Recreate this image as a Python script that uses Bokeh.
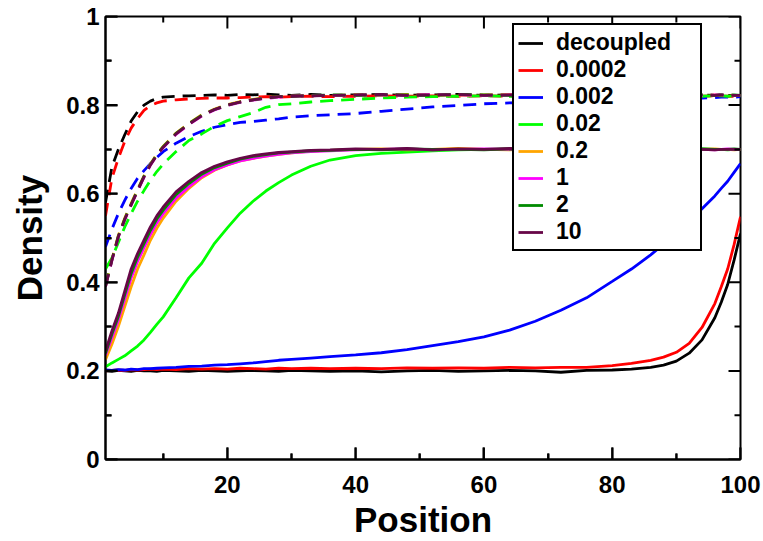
from bokeh.plotting import figure
from bokeh.models import Legend, LegendItem, FixedTicker, Range1d
from bokeh.embed import file_html
from bokeh.resources import INLINE

# ---------------- data ----------------
positions = [1, 2, 3, 4, 5, 6, 7, 8, 9, 10, 12, 14, 16, 18, 20, 22, 24, 26, 28, 30,
             33, 36, 40, 44, 48, 52, 56, 60, 64, 68, 72, 76, 80, 83, 86, 88, 90, 92,
             94, 96, 97, 98, 99, 100]

series_labels = ["decoupled", "0.0002", "0.002", "0.02", "0.2", "1", "2", "10"]
series_colors = ["#000000", "#FF0000", "#0000FF", "#00FF00", "#FFA500", "#FF00FF",
                 "#008B00", "#670748"]

# solid curves (low-density branch)
low_decoupled = [0.200, 0.199, 0.201, 0.200, 0.199, 0.201, 0.200, 0.200, 0.199, 0.201,
                 0.200, 0.199, 0.201, 0.200, 0.199, 0.200, 0.201, 0.200, 0.199, 0.201,
                 0.200, 0.199, 0.200, 0.198, 0.200, 0.201, 0.199, 0.200, 0.201, 0.200,
                 0.197, 0.201, 0.202, 0.204, 0.208, 0.213, 0.222, 0.240, 0.270, 0.320,
                 0.355, 0.395, 0.450, 0.510]
low_0_0002 = [0.200, 0.201, 0.202, 0.201, 0.203, 0.202, 0.203, 0.204, 0.203, 0.204,
              0.203, 0.205, 0.204, 0.205, 0.204, 0.206, 0.205, 0.204, 0.206, 0.205,
              0.206, 0.205, 0.206, 0.205, 0.207, 0.206, 0.207, 0.206, 0.208, 0.207,
              0.208, 0.208, 0.212, 0.217, 0.224, 0.231, 0.242, 0.262, 0.298, 0.352,
              0.390, 0.430, 0.485, 0.548]
low_0_002 = [0.202, 0.201, 0.203, 0.202, 0.204, 0.203, 0.205, 0.205, 0.206, 0.207,
             0.208, 0.210, 0.211, 0.213, 0.214, 0.216, 0.218, 0.221, 0.224, 0.226,
             0.229, 0.232, 0.236, 0.241, 0.248, 0.257, 0.266, 0.277, 0.292, 0.312,
             0.337, 0.365, 0.402, 0.430, 0.462, 0.486, 0.512, 0.538, 0.566, 0.595,
             0.612, 0.628, 0.648, 0.668]
low_0_02 = [0.209, 0.218, 0.226, 0.234, 0.245, 0.256, 0.270, 0.287, 0.305, 0.322,
            0.365, 0.410, 0.443, 0.488, 0.523, 0.556, 0.583, 0.606, 0.625, 0.642,
            0.662, 0.676, 0.686, 0.691, 0.694, 0.697, 0.699, 0.700, 0.701, 0.699,
            0.700, 0.702, 0.700, 0.699, 0.701, 0.700, 0.700, 0.699, 0.701, 0.700,
            0.700, 0.699, 0.700, 0.700]
low_0_2 = [0.225, 0.260, 0.300, 0.345, 0.390, 0.430, 0.462, 0.495, 0.522, 0.545,
           0.583, 0.612, 0.636, 0.653, 0.665, 0.674, 0.680, 0.685, 0.689, 0.692,
           0.696, 0.698, 0.700, 0.701, 0.699, 0.700, 0.702, 0.700, 0.699, 0.701,
           0.700, 0.700, 0.701, 0.699, 0.700, 0.701, 0.700, 0.699, 0.700, 0.701,
           0.700, 0.700, 0.699, 0.700]
low_1 = [0.235, 0.275, 0.315, 0.362, 0.410, 0.447, 0.478, 0.508, 0.534, 0.555,
         0.590, 0.616, 0.638, 0.654, 0.665, 0.674, 0.680, 0.685, 0.689, 0.692,
         0.695, 0.697, 0.699, 0.700, 0.701, 0.699, 0.700, 0.701, 0.700, 0.699,
         0.701, 0.700, 0.700, 0.701, 0.699, 0.700, 0.700, 0.701, 0.700, 0.699,
         0.700, 0.701, 0.700, 0.700]
low_2 = [0.240, 0.283, 0.323, 0.372, 0.420, 0.457, 0.487, 0.517, 0.543, 0.563,
         0.598, 0.623, 0.644, 0.659, 0.669, 0.678, 0.684, 0.688, 0.692, 0.694,
         0.697, 0.698, 0.700, 0.699, 0.701, 0.700, 0.700, 0.699, 0.701, 0.700,
         0.700, 0.701, 0.699, 0.700, 0.701, 0.700, 0.699, 0.700, 0.701, 0.700,
         0.700, 0.700, 0.701, 0.700]
low_10 = [0.245, 0.290, 0.330, 0.380, 0.430, 0.465, 0.495, 0.525, 0.550, 0.570,
          0.604, 0.628, 0.648, 0.662, 0.672, 0.680, 0.686, 0.690, 0.693, 0.695,
          0.698, 0.699, 0.701, 0.700, 0.702, 0.699, 0.701, 0.700, 0.702, 0.700,
          0.699, 0.701, 0.700, 0.702, 0.700, 0.699, 0.701, 0.700, 0.700, 0.699,
          0.700, 0.700, 0.700, 0.700]

# dashed curves (high-density branch)
high_decoupled = [0.580, 0.660, 0.700, 0.733, 0.764, 0.785, 0.800, 0.809, 0.815, 0.818,
                  0.820, 0.821, 0.822, 0.823, 0.822, 0.824, 0.823, 0.825, 0.823, 0.822,
                  0.824, 0.822, 0.823, 0.824, 0.822, 0.823, 0.824, 0.822, 0.823, 0.822,
                  0.824, 0.823, 0.822, 0.823, 0.824, 0.822, 0.823, 0.822, 0.823, 0.822,
                  0.823, 0.822, 0.822, 0.822]
high_0_0002 = [0.550, 0.635, 0.680, 0.718, 0.748, 0.770, 0.788, 0.799, 0.805, 0.809,
               0.812, 0.814, 0.815, 0.816, 0.816, 0.817, 0.818, 0.819, 0.818, 0.819,
               0.820, 0.819, 0.820, 0.821, 0.820, 0.821, 0.820, 0.821, 0.820, 0.821,
               0.820, 0.821, 0.820, 0.821, 0.820, 0.821, 0.820, 0.821, 0.820, 0.821,
               0.820, 0.820, 0.820, 0.820]
high_0_002 = [0.480, 0.520, 0.555, 0.585, 0.612, 0.635, 0.652, 0.668, 0.682, 0.695,
              0.714, 0.729, 0.741, 0.750, 0.756, 0.761, 0.763, 0.766, 0.769, 0.773,
              0.776, 0.778, 0.781, 0.786, 0.791, 0.796, 0.799, 0.803, 0.805, 0.806,
              0.808, 0.809, 0.811, 0.812, 0.813, 0.814, 0.815, 0.816, 0.816, 0.817,
              0.818, 0.818, 0.818, 0.819]
high_0_02 = [0.430, 0.455, 0.490, 0.525, 0.555, 0.583, 0.607, 0.630, 0.650, 0.667,
             0.695, 0.720, 0.735, 0.752, 0.765, 0.774, 0.783, 0.795, 0.801, 0.803,
             0.807, 0.810, 0.813, 0.816, 0.818, 0.819, 0.820, 0.821, 0.820, 0.822,
             0.821, 0.820, 0.822, 0.821, 0.820, 0.821, 0.822, 0.821, 0.820, 0.821,
             0.821, 0.820, 0.821, 0.821]
high_0_2 = [0.392, 0.452, 0.506, 0.545, 0.578, 0.610, 0.640, 0.667, 0.689, 0.707,
            0.737, 0.759, 0.778, 0.791, 0.801, 0.808, 0.813, 0.817, 0.819, 0.820,
            0.822, 0.822, 0.823, 0.822, 0.824, 0.823, 0.822, 0.823, 0.824, 0.822,
            0.823, 0.823, 0.822, 0.824, 0.823, 0.822, 0.823, 0.824, 0.822, 0.823,
            0.822, 0.823, 0.822, 0.822]
high_1 = [0.390, 0.449, 0.502, 0.541, 0.574, 0.606, 0.637, 0.664, 0.686, 0.704,
          0.734, 0.756, 0.775, 0.789, 0.799, 0.806, 0.811, 0.815, 0.818, 0.820,
          0.821, 0.822, 0.822, 0.823, 0.822, 0.824, 0.823, 0.822, 0.823, 0.823,
          0.822, 0.824, 0.823, 0.822, 0.823, 0.822, 0.824, 0.823, 0.822, 0.823,
          0.823, 0.822, 0.822, 0.822]
high_2 = [0.391, 0.451, 0.504, 0.543, 0.576, 0.608, 0.639, 0.666, 0.688, 0.706,
          0.736, 0.758, 0.777, 0.790, 0.800, 0.807, 0.812, 0.816, 0.819, 0.820,
          0.821, 0.823, 0.822, 0.823, 0.823, 0.822, 0.824, 0.823, 0.822, 0.823,
          0.824, 0.822, 0.823, 0.823, 0.822, 0.824, 0.822, 0.823, 0.823, 0.822,
          0.823, 0.822, 0.823, 0.822]
high_10 = [0.390, 0.450, 0.503, 0.542, 0.575, 0.607, 0.638, 0.665, 0.687, 0.705,
           0.735, 0.757, 0.776, 0.790, 0.800, 0.807, 0.812, 0.816, 0.819, 0.820,
           0.821, 0.822, 0.823, 0.824, 0.822, 0.823, 0.824, 0.822, 0.823, 0.822,
           0.823, 0.823, 0.822, 0.823, 0.822, 0.823, 0.824, 0.822, 0.823, 0.822,
           0.823, 0.823, 0.822, 0.822]

low_series = [low_decoupled, low_0_0002, low_0_002, low_0_02, low_0_2, low_1, low_2, low_10]
high_series = [high_decoupled, high_0_0002, high_0_002, high_0_02, high_0_2, high_1, high_2, high_10]

x_major = [20, 40, 60, 80, 100]
x_minor = [10, 30, 50, 70, 90]
y_major = [0, 0.2, 0.4, 0.6, 0.8, 1.0]
y_minor = [0.1, 0.3, 0.5, 0.7, 0.9]
y_tick_text = ["0", "0.2", "0.4", "0.6", "0.8", "1"]

X_LO, X_HI = 1, 100
Y_LO, Y_HI = 0, 1

# ---------------- figure ----------------
FONT = "Liberation Sans"
W, H = 763, 541
BL, BR, BT, BB = 105, 23, 16, 80
FRAME_W, FRAME_H = W - BL - BR, H - BT - BB

p = figure(width=W, height=H, output_backend="svg", toolbar_location=None,
           x_range=Range1d(X_LO, X_HI), y_range=Range1d(Y_LO, Y_HI),
           min_border_left=BL, min_border_right=BR, min_border_top=BT,
           min_border_bottom=BB)
p.xgrid.visible = False
p.ygrid.visible = False
p.outline_line_color = "black"
p.outline_line_width = 2
p.outline_line_alpha = 1

legend_items = []
for lab, col, lo, hi in zip(series_labels, series_colors, low_series, high_series):
    r = p.line(positions, lo, line_color=col, line_width=2.8)
    p.line(positions, hi, line_color=col, line_width=2.8, line_dash="13 8")
    legend_items.append(LegendItem(label=lab, renderers=[r]))

# inward ticks on the top and right edges (mirror of bottom/left axes)
px_x = (X_HI - X_LO) / FRAME_W
px_y = (Y_HI - Y_LO) / FRAME_H
for t in x_major + x_minor:
    ln = (12 if t in x_major else 6) * px_y
    p.line([t, t], [Y_HI, Y_HI - ln], line_color="black", line_width=2)
    p.line([t, t], [Y_LO, Y_LO + ln], line_color="black", line_width=2)
for t in y_major + y_minor:
    ln = (12 if t in y_major else 6) * px_x
    p.line([X_HI, X_HI - ln], [t, t], line_color="black", line_width=2)
    p.line([X_LO, X_LO + ln], [t, t], line_color="black", line_width=2)

p.xaxis.ticker = FixedTicker(ticks=x_major, minor_ticks=x_minor)
p.yaxis.ticker = FixedTicker(ticks=y_major, minor_ticks=y_minor)
p.xaxis.axis_label = "Position"
p.yaxis.axis_label = "Density"
for ax in list(p.xaxis) + list(p.yaxis):
    ax.axis_line_width = 2
    ax.axis_line_color = "black"
    ax.major_tick_in = 12
    ax.major_tick_out = 0
    ax.minor_tick_in = 6
    ax.minor_tick_out = 0
    ax.major_tick_line_color = "black"
    ax.minor_tick_line_color = "black"
    ax.major_tick_line_width = 2
    ax.minor_tick_line_width = 2
    ax.major_label_text_color = "black"
    ax.axis_label_text_color = "black"
    ax.major_label_text_font = FONT
    ax.major_label_text_font_style = "bold"
    ax.major_label_text_font_size = "24px"
    ax.axis_label_text_font = FONT
    ax.axis_label_text_font_style = "bold"
    ax.axis_label_text_font_size = "35px"
for ax in p.xaxis:
    ax.major_label_standoff = 16
    ax.axis_label_standoff = 4
for ax in p.yaxis:
    ax.major_label_standoff = 6
    ax.axis_label_standoff = 14
    ax.major_label_overrides = {v: t for v, t in zip(y_major, y_tick_text)}

legend = Legend(items=legend_items, location=(407, 208))
legend.border_line_color = "black"
legend.border_line_width = 2
legend.border_line_alpha = 1
legend.background_fill_alpha = 1
legend.label_text_font = FONT
legend.label_text_font_style = "bold"
legend.label_text_font_size = "23px"
legend.label_text_color = "black"
legend.glyph_width = 25
legend.glyph_height = 20
legend.label_height = 20
legend.label_width = 140
legend.spacing = 0
legend.padding = 4
legend.margin = 0
legend.label_standoff = 13
p.add_layout(legend, "center")

open("out.html", "w").write(file_html(p, INLINE))
